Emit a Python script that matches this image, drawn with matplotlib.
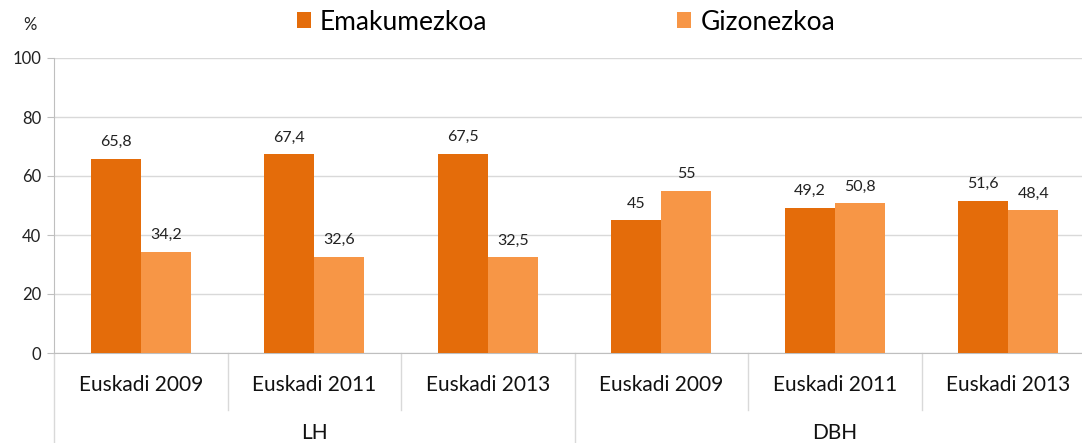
import numpy as np
import matplotlib.pyplot as plt
from matplotlib.transforms import blended_transform_factory

# ── data ──────────────────────────────────────────────────────────────────────
categories = ['Euskadi 2009', 'Euskadi 2011', 'Euskadi 2013',
              'Euskadi 2009', 'Euskadi 2011', 'Euskadi 2013']
groups = ['LH', 'DBH']
emakumezkoa = [65.8, 67.4, 67.5, 45, 49.2, 51.6]
gizonezkoa = [34.2, 32.6, 32.5, 55, 50.8, 48.4]
series_names = ['Emakumezkoa', 'Gizonezkoa']
yticks = [0, 20, 40, 60, 80, 100]

C_DARK = '#E46C0A'
C_LIGHT = '#F79646'
GRID = '#D9D9D9'
AXIS = '#BFBFBF'

plt.rcParams['font.family'] = ['Lato', 'DejaVu Sans']

W, H = 1082, 443
fig = plt.figure(figsize=(W / 100, H / 100), dpi=100)

# plot area: y axis at x=54, 0 at y=353, 100 at y=58, 173.5 px per category
left, y0, ytop, cat_px = 54, 353, 58, 173.5
ax = fig.add_axes([left / W, (H - y0) / H, (W - left) / W, (y0 - ytop) / H])

x = np.arange(len(categories))
bw = 0.288
b1 = ax.bar(x - bw / 2, emakumezkoa, bw, color=C_DARK, label=series_names[0], zorder=3)
b2 = ax.bar(x + bw / 2, gizonezkoa, bw, color=C_LIGHT, label=series_names[1], zorder=3)

def fmt(v):
    return ('%g' % v).replace('.', ',')

for bars, vals in [(b1, emakumezkoa), (b2, gizonezkoa)]:
    for r, v in zip(bars, vals):
        ax.annotate(fmt(v), (r.get_x() + r.get_width() / 2, v),
                    xytext=(0, 7), textcoords='offset points',
                    ha='center', va='bottom', fontsize=11.5, color='#222222')

ax.set_ylim(0, 100)
ax.set_xlim(-0.5, -0.5 + (W - left) / cat_px)
ax.set_yticks(yticks)
ax.set_yticklabels([str(t) for t in yticks], fontsize=12, color='#222222')
ax.yaxis.grid(True, color=GRID, lw=1, zorder=0)
ax.set_axisbelow(True)
ax.tick_params(axis='y', length=5, color=AXIS, pad=4)
ax.set_xticks([])
for s in ['top', 'right']:
    ax.spines[s].set_visible(False)
ax.spines['left'].set_color(AXIS)
ax.spines['bottom'].set_color(AXIS)

# category / group labels and separators below the axis
tr = blended_transform_factory(ax.transData, ax.transAxes)
ph = y0 - ytop
def frac(py):
    return (y0 - py) / ph

for i, c in enumerate(categories):
    ax.text(i, frac(385), c, transform=tr, ha='center', va='center',
            fontsize=15, color='#111111')
for i, g in enumerate(groups):
    ax.text(i * 3 + 1, frac(433), g, transform=tr, ha='center', va='center',
            fontsize=15, color='#111111')
for xs in [0.5, 1.5, 3.5, 4.5]:
    ax.plot([xs, xs], [0, frac(410)], transform=tr, color=GRID, lw=1, clip_on=False)
for xs in [-0.5, 2.5, 5.5]:
    ax.plot([xs, xs], [0, frac(450)], transform=tr, color=GRID, lw=1, clip_on=False)

fig.text(30 / W, 1 - 25 / H, '%', ha='center', va='center', fontsize=12, color='#222222')

fig.legend(handles=[b1, b2], loc='center', bbox_to_anchor=(566 / W, 1 - 22 / H),
           ncol=2, frameon=False, fontsize=19, handlelength=0.52, handleheight=0.52,
           handletextpad=0.35, columnspacing=7.2, borderaxespad=0)

fig.savefig('out.png', dpi=100)
